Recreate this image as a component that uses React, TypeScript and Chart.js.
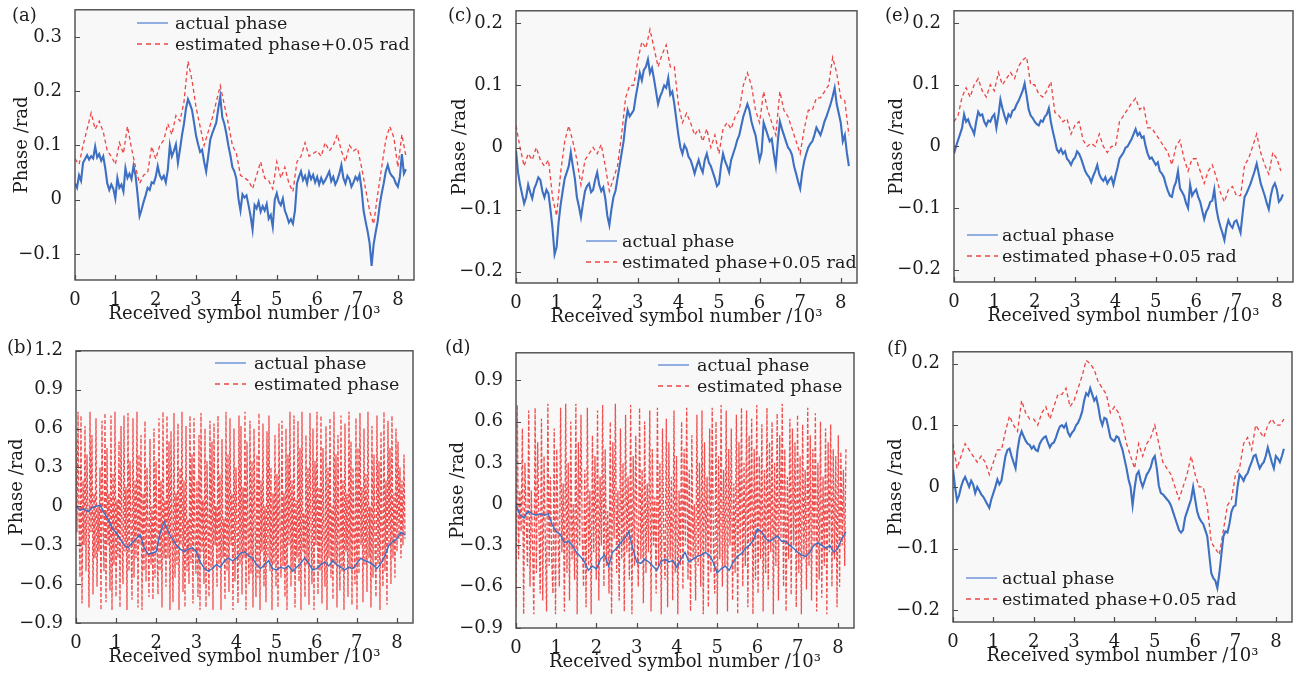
import React, { useEffect, useRef } from 'react';
import { Chart, registerables } from 'chart.js';
Chart.register(...registerables);

// ---------- text ----------
const X_TITLE = 'Received symbol number /10³';
const Y_TITLE = 'Phase /rad';
const LEG_ACTUAL = 'actual phase';
const LEG_EST_OFFSET = 'estimated phase+0.05 rad';
const LEG_EST = 'estimated phase';

// ---------- ticks ----------
const X_TICKS = [0, 1, 2, 3, 4, 5, 6, 7, 8];
const Y_TICKS_A = [-0.1, 0, 0.1, 0.2, 0.3];
const Y_TICKS_B = [-0.9, -0.6, -0.3, 0, 0.3, 0.6, 0.9, 1.2];
const Y_TICKS_C = [-0.2, -0.1, 0, 0.1, 0.2];
const Y_TICKS_D = [-0.9, -0.6, -0.3, 0, 0.3, 0.6, 0.9];
const Y_TICKS_EF = [-0.2, -0.1, 0, 0.1, 0.2];

// symbol index spacing (10^3 symbols)
const STEP_FINE = 0.05;
const STEP_COARSE = 0.1;
const X_LAST = 8.2;

// ---------- (a) ----------
const A_ACTUAL = [
  0.030, 0.022, 0.045, 0.035, 0.068, 0.075, 0.082, 0.074, 0.080, 0.076,
  0.098, 0.078, 0.084, 0.072, 0.080, 0.058, 0.030, 0.018, 0.028, 0.020,
  0.002, 0.040, 0.022, 0.028, 0.015, 0.058, 0.040, 0.048, 0.038, 0.062,
  0.045, 0.010, -0.030, -0.018, -0.004, 0.008, 0.022, 0.018, 0.032, 0.030,
  0.042, 0.062, 0.045, 0.038, 0.044, 0.032, 0.055, 0.100, 0.080, 0.090,
  0.102, 0.068, 0.092, 0.118, 0.140, 0.168, 0.185, 0.176, 0.165, 0.142,
  0.118, 0.102, 0.088, 0.092, 0.070, 0.052, 0.080, 0.110, 0.122, 0.132,
  0.142, 0.168, 0.190, 0.152, 0.140, 0.122, 0.100, 0.082, 0.060, 0.052,
  0.038, 0.002, -0.020, 0.010, 0.004, 0.008, -0.010, -0.030, -0.055, -0.010,
  -0.016, -0.004, -0.022, -0.012, -0.020, -0.008, -0.035, -0.028, -0.050, 0.000,
  0.012, -0.004, -0.010, 0.002, -0.020, -0.030, -0.042, -0.036, -0.044, -0.020,
  0.030, 0.042, 0.052, 0.036, 0.044, 0.030, 0.050, 0.038, 0.046, 0.032,
  0.042, 0.028, 0.040, 0.030, 0.036, 0.044, 0.052, 0.034, 0.042, 0.028,
  0.036, 0.048, 0.064, 0.040, 0.030, 0.044, 0.038, 0.024, 0.032, 0.042,
  0.036, 0.046, 0.020, -0.020, -0.040, -0.058, -0.080, -0.122, -0.082, -0.060,
  -0.040, -0.010, 0.012, 0.030, 0.052, 0.064, 0.050, 0.044, 0.040, 0.030,
  0.024, 0.042, 0.084, 0.048, 0.056,
];
const A_ESTIMATED = [
  0.075, 0.065, 0.100, 0.130, 0.160, 0.130, 0.145, 0.125, 0.090, 0.080,
  0.065, 0.105, 0.085, 0.135, 0.095, 0.060, 0.030, 0.045, 0.050, 0.098,
  0.075, 0.100, 0.110, 0.140, 0.120, 0.155, 0.145, 0.180, 0.255, 0.220,
  0.170, 0.135, 0.100, 0.125, 0.150, 0.180, 0.210, 0.175, 0.140, 0.100,
  0.085, 0.045, 0.040, 0.035, 0.020, 0.045, 0.070, 0.040, 0.035, 0.020,
  0.070, 0.040, 0.060, 0.030, 0.015, 0.070, 0.080, 0.105, 0.080, 0.085,
  0.090, 0.080, 0.105, 0.090, 0.100, 0.120, 0.090, 0.070, 0.100, 0.090,
  0.095, 0.060, 0.020, -0.020, -0.045, 0.010, 0.060, 0.110, 0.135, 0.115,
  0.060, 0.120, 0.080,
];

// ---------- (b) ----------
const B_ACTUAL = [
  0.00, -0.03, -0.02, -0.04, -0.01, 0.00, 0.01, -0.05, -0.10, -0.17,
  -0.20, -0.25, -0.30, -0.32, -0.28, -0.25, -0.22, -0.32, -0.37, -0.36,
  -0.35, -0.20, -0.12, -0.20, -0.25, -0.30, -0.33, -0.35, -0.33, -0.32,
  -0.35, -0.43, -0.48, -0.50, -0.48, -0.45, -0.47, -0.42, -0.40, -0.42,
  -0.40, -0.36, -0.35, -0.38, -0.40, -0.45, -0.48, -0.45, -0.42, -0.48,
  -0.49, -0.47, -0.48, -0.46, -0.50, -0.47, -0.44, -0.40, -0.44, -0.49,
  -0.48, -0.45, -0.43, -0.46, -0.42, -0.45, -0.47, -0.49, -0.47, -0.48,
  -0.44, -0.40, -0.42, -0.43, -0.45, -0.48, -0.44, -0.38, -0.30, -0.27,
  -0.25, -0.20, -0.22,
];
const B_ESTIMATED = [
  0.50, -0.20, 0.73, -0.10, -0.55, 0.70, -0.75, 0.20, -0.30, 0.62,
  -0.50, 0.40, -0.10, -0.78, 0.73, -0.20, 0.55, -0.68, 0.10, -0.40,
  0.68, -0.62, 0.00, -0.35, 0.30, -0.80, 0.66, -0.15, -0.50, 0.72,
  -0.74, 0.45, -0.30, 0.10, -0.65, 0.70, -0.80, 0.25, -0.45, 0.73,
  -0.70, 0.05, -0.40, 0.50, -0.78, 0.62, -0.25, -0.60, 0.70, -0.35,
  0.15, -0.80, 0.72, -0.50, 0.35, -0.20, -0.72, 0.68, -0.55, 0.20,
  -0.40, 0.73, -0.78, 0.40, -0.30, 0.55, -0.80, 0.10, -0.50, 0.66,
  -0.58, 0.30, -0.20, -0.70, 0.52, -0.45, 0.00, -0.72, 0.60, -0.55,
  0.35, -0.30, -0.68, 0.68, -0.50, 0.20, -0.78, 0.73, -0.40, 0.05,
  -0.62, 0.70, -0.40, 0.50, -0.80, 0.58, -0.20, -0.74, 0.72, -0.55,
  0.10, -0.45, 0.64, -0.80, 0.30, -0.30, 0.73, -0.66, 0.20, -0.78,
  0.62, -0.50, -0.10, -0.60, 0.70, -0.44, 0.40, -0.75, 0.68, -0.25,
  -0.52, 0.20, -0.70, 0.55, -0.80, 0.72, -0.35, 0.05, -0.60, 0.60,
  -0.78, 0.35, -0.20, -0.70, 0.66, -0.48, 0.50, -0.80, 0.64, -0.30,
  0.00, -0.62, 0.70, -0.45, 0.25, -0.80, 0.52, -0.40, -0.10, -0.72,
  0.73, -0.50, 0.40, -0.66, 0.68, -0.30, 0.10, -0.80, 0.60, -0.58,
  0.30, -0.20, -0.75, 0.70, -0.45, 0.62, -0.68, 0.15, -0.40, 0.73,
  -0.80, 0.50, -0.25, -0.60, 0.66, -0.52, 0.35, -0.78, 0.60, -0.10,
  -0.70, 0.40, -0.55, 0.72, -0.80, 0.20, -0.35, 0.64, -0.62, 0.00,
  -0.74, 0.58, -0.40, 0.70, -0.50, 0.30, -0.80, 0.10, -0.45, 0.55,
  -0.62, 0.25, -0.78, 0.64, -0.20, -0.55, 0.66, -0.46, 0.10, -0.70,
  0.60, -0.80, 0.40, -0.30, 0.73, -0.62, 0.20, -0.50, 0.70, -0.78,
  0.05, -0.40, 0.66, -0.58, 0.45, -0.80, 0.73, -0.35, -0.05, -0.70,
  0.55, -0.45, 0.30, -0.76, 0.72, -0.20, -0.60, 0.60, -0.80, 0.35,
  -0.30, 0.73, -0.68, 0.15, -0.50, 0.70, -0.75, 0.45, -0.25, -0.62,
  0.62, -0.80, 0.30, -0.40, 0.68, -0.55, 0.00, -0.72, 0.73, -0.45,
  0.40, -0.78, 0.55, -0.30, -0.65, 0.70, -0.50, 0.20, -0.80, 0.64,
  -0.35, 0.10, -0.70, 0.73, -0.48, 0.50, -0.76, 0.30, -0.20, -0.60,
  0.68, -0.80, 0.45, -0.52, 0.72, -0.30, 0.15, -0.74, 0.60, -0.45,
  0.25, -0.66, 0.73, -0.40, 0.00, -0.78, 0.62, -0.55, 0.40, -0.30,
  -0.70, 0.70, -0.45, 0.35, -0.80, 0.58, -0.20, -0.62, 0.73, -0.50,
  0.20, -0.76, 0.66, -0.30, 0.45, -0.60, 0.70, -0.40, 0.10, -0.55,
  0.60, -0.35, 0.50, -0.25, 0.30, -0.40, 0.20, -0.30, 0.40, -0.25,
];

// ---------- (c) ----------
const C_ACTUAL = [
  -0.005, -0.040, -0.060, -0.075, -0.090, -0.080, -0.060, -0.072, -0.082, -0.066,
  -0.058, -0.048, -0.052, -0.070, -0.080, -0.068, -0.074, -0.100, -0.130, -0.172,
  -0.160, -0.120, -0.092, -0.070, -0.050, -0.040, -0.030, -0.008, -0.030, -0.050,
  -0.080, -0.095, -0.112, -0.090, -0.070, -0.062, -0.058, -0.072, -0.068, -0.052,
  -0.040, -0.060, -0.070, -0.064, -0.082, -0.110, -0.125, -0.100, -0.080, -0.070,
  -0.050, -0.030, -0.010, 0.010, 0.040, 0.060, 0.050, 0.055, 0.060, 0.082,
  0.100, 0.120, 0.108, 0.125, 0.130, 0.142, 0.120, 0.128, 0.110, 0.090,
  0.070, 0.082, 0.090, 0.100, 0.096, 0.112, 0.085, 0.090, 0.070, 0.045,
  0.020, 0.000, -0.010, 0.004, -0.002, -0.015, -0.020, -0.030, -0.042, -0.030,
  -0.020, -0.032, -0.040, -0.020, -0.010, -0.024, -0.030, -0.040, -0.050, -0.062,
  -0.058, -0.030, -0.010, -0.022, -0.030, -0.040, -0.020, -0.010, 0.000, 0.012,
  0.020, 0.035, 0.050, 0.060, 0.070, 0.060, 0.042, 0.030, 0.020, 0.000,
  -0.020, -0.008, 0.040, 0.030, 0.020, 0.010, 0.014, -0.010, -0.030, 0.010,
  0.042, 0.030, 0.020, 0.010, 0.000, -0.004, -0.012, -0.030, -0.042, -0.055,
  -0.066, -0.040, -0.022, -0.010, 0.000, 0.006, 0.010, 0.020, 0.032, 0.026,
  0.020, 0.030, 0.042, 0.050, 0.060, 0.070, 0.082, 0.096, 0.070, 0.055,
  0.040, 0.010, 0.020, -0.008, -0.030,
];
const C_ESTIMATED = [
  0.035, 0.000, -0.030, -0.010, -0.020, 0.000, -0.020, -0.030, -0.020, -0.080,
  -0.110, -0.040, 0.010, 0.035, 0.010, -0.020, -0.060, -0.020, -0.010, 0.000,
  -0.010, 0.005, -0.030, -0.070, -0.050, -0.030, 0.020, 0.080, 0.100, 0.100,
  0.140, 0.170, 0.160, 0.190, 0.160, 0.130, 0.150, 0.165, 0.130, 0.130,
  0.070, 0.040, 0.055, 0.040, 0.020, 0.030, 0.010, 0.030, 0.000, 0.020,
  -0.010, 0.030, 0.040, 0.030, 0.050, 0.060, 0.100, 0.120, 0.100, 0.060,
  0.040, 0.090, 0.060, 0.040, 0.020, 0.090, 0.060, 0.050, 0.030, 0.010,
  -0.010, 0.030, 0.060, 0.060, 0.080, 0.080, 0.090, 0.100, 0.145, 0.120,
  0.080, 0.075, 0.020,
];

// ---------- (d) ----------
const D_ACTUAL = [
  0.00, -0.08, -0.10, -0.05, -0.07, -0.08, -0.07, -0.08, -0.07, -0.15,
  -0.20, -0.22, -0.28, -0.27, -0.30, -0.35, -0.38, -0.42, -0.48, -0.45,
  -0.47, -0.40, -0.37, -0.45, -0.35, -0.32, -0.28, -0.25, -0.20, -0.32,
  -0.42, -0.43, -0.40, -0.42, -0.45, -0.48, -0.42, -0.40, -0.42, -0.41,
  -0.46, -0.40, -0.35, -0.42, -0.40, -0.38, -0.37, -0.35, -0.37, -0.42,
  -0.50, -0.47, -0.45, -0.48, -0.42, -0.38, -0.36, -0.32, -0.30, -0.26,
  -0.18, -0.20, -0.25, -0.27, -0.25, -0.23, -0.27, -0.27, -0.30, -0.32,
  -0.35, -0.37, -0.38, -0.35, -0.30, -0.28, -0.30, -0.32, -0.30, -0.35,
  -0.32, -0.25, -0.20,
];
const D_ESTIMATED = [
  -0.75, 0.72, -0.40, 0.10, -0.20, 0.55, -0.80, 0.30, -0.10, -0.45,
  0.68, -0.60, 0.10, -0.30, -0.80, 0.70, -0.50, 0.45, -0.15, -0.65,
  0.62, -0.70, 0.35, -0.25, -0.78, 0.73, -0.45, 0.20, -0.40, -0.65,
  0.55, -0.80, 0.40, -0.20, -0.60, 0.70, -0.35, 0.15, -0.78, 0.73,
  -0.50, 0.30, -0.70, 0.60, -0.40, 0.00, -0.55, 0.73, -0.80, 0.45,
  -0.30, 0.65, -0.25, -0.60, 0.25, -0.75, 0.70, -0.45, 0.10, -0.80,
  0.50, -0.35, 0.35, -0.55, 0.68, -0.70, 0.20, -0.30, 0.72, -0.60,
  0.40, -0.45, -0.05, -0.65, 0.60, -0.80, 0.45, -0.25, 0.73, -0.50,
  0.10, -0.70, 0.55, -0.40, 0.30, -0.78, 0.65, -0.35, 0.20, -0.55,
  0.72, -0.80, 0.35, -0.45, 0.50, -0.20, -0.60, 0.70, -0.40, 0.25,
  -0.72, 0.60, -0.50, 0.15, -0.35, 0.68, -0.78, 0.40, -0.30, 0.05,
  -0.65, 0.70, -0.45, 0.30, -0.80, 0.55, -0.25, -0.55, 0.62, -0.75,
  0.45, -0.40, 0.20, -0.70, 0.68, -0.50, 0.35, -0.80, 0.10, -0.45,
  0.60, -0.62, 0.40, -0.30, 0.70, -0.55, 0.25, -0.78, 0.50, -0.40,
  0.00, -0.70, 0.65, -0.45, 0.30, -0.60, 0.68, -0.80, 0.45, -0.35,
  0.20, -0.75, 0.55, -0.50, 0.70, -0.30, -0.65, 0.60, -0.80, 0.35,
  -0.40, 0.72, -0.60, 0.25, -0.45, 0.68, -0.78, 0.40, -0.30, 0.55,
  -0.70, 0.15, -0.50, 0.65, -0.80, 0.45, -0.35, 0.70, -0.60, 0.30,
  -0.45, 0.68, -0.75, 0.50, -0.30, 0.62, -0.80, 0.40, -0.55, 0.72,
  -0.65, 0.35, -0.40, 0.58, -0.78, 0.25, -0.50, 0.70, -0.62, 0.45,
  -0.35, 0.60, -0.80, 0.30, -0.45, 0.66, -0.70, 0.50, -0.25, 0.73,
  -0.60, 0.40, -0.78, 0.20, -0.40, 0.62, -0.66, 0.55, -0.30, 0.45,
  -0.75, 0.65, -0.50, 0.35, -0.80, 0.58, -0.40, 0.25, -0.62, 0.70,
  -0.45, 0.50, -0.70, 0.40, -0.30, 0.66, -0.78, 0.30, -0.55, 0.60,
  -0.68, 0.20, -0.45, 0.55, -0.80, 0.45, -0.35, 0.58, -0.60, 0.40,
  -0.40, 0.35, -0.75, 0.50, -0.60, 0.38, -0.30, 0.25, -0.45, 0.40,
];

// ---------- (e) ----------
const E_ACTUAL = [
  -0.012, 0.000, 0.010, 0.020, 0.030, 0.052, 0.040, 0.044, 0.034, 0.028,
  0.020, 0.040, 0.056, 0.050, 0.052, 0.040, 0.034, 0.042, 0.040, 0.048,
  0.052, 0.030, 0.050, 0.076, 0.062, 0.050, 0.040, 0.052, 0.048, 0.058,
  0.060, 0.068, 0.074, 0.082, 0.090, 0.102, 0.082, 0.060, 0.050, 0.046,
  0.040, 0.036, 0.034, 0.042, 0.040, 0.048, 0.052, 0.062, 0.040, 0.024,
  0.010, -0.005, -0.010, -0.004, -0.012, -0.008, -0.020, -0.024, -0.030, -0.022,
  -0.018, -0.008, -0.012, -0.020, -0.030, -0.040, -0.046, -0.050, -0.058, -0.048,
  -0.040, -0.030, -0.045, -0.052, -0.056, -0.050, -0.060, -0.054, -0.050, -0.062,
  -0.048, -0.035, -0.020, -0.015, -0.010, -0.002, 0.000, 0.006, 0.012, 0.020,
  0.028, 0.018, 0.022, 0.014, 0.016, 0.000, -0.012, -0.020, -0.018, -0.024,
  -0.030, -0.026, -0.040, -0.044, -0.050, -0.062, -0.072, -0.080, -0.082, -0.066,
  -0.058, -0.040, -0.068, -0.074, -0.080, -0.092, -0.100, -0.062, -0.080, -0.074,
  -0.070, -0.082, -0.090, -0.104, -0.118, -0.106, -0.100, -0.090, -0.088, -0.070,
  -0.100, -0.118, -0.130, -0.140, -0.152, -0.132, -0.120, -0.128, -0.132, -0.122,
  -0.120, -0.130, -0.140, -0.110, -0.082, -0.076, -0.068, -0.060, -0.050, -0.040,
  -0.028, -0.044, -0.060, -0.070, -0.080, -0.092, -0.102, -0.080, -0.066, -0.060,
  -0.070, -0.090, -0.086, -0.078,
];
const E_ESTIMATED = [
  0.040, 0.050, 0.080, 0.095, 0.080, 0.100, 0.110, 0.090, 0.080, 0.100,
  0.090, 0.120, 0.100, 0.110, 0.120, 0.110, 0.130, 0.140, 0.145, 0.100,
  0.100, 0.085, 0.080, 0.090, 0.105, 0.055, 0.050, 0.040, 0.045, 0.020,
  0.035, 0.040, 0.010, 0.000, 0.005, 0.000, 0.020, 0.000, -0.010, 0.000,
  0.000, 0.040, 0.050, 0.060, 0.070, 0.078, 0.060, 0.065, 0.030, 0.030,
  0.020, 0.010, 0.000, -0.010, -0.030, 0.000, 0.010, -0.020, -0.040, -0.020,
  -0.020, -0.040, -0.060, -0.040, -0.030, -0.050, -0.075, -0.090, -0.070, -0.065,
  -0.080, -0.080, -0.030, -0.020, 0.000, 0.020, -0.010, -0.030, -0.045, -0.010,
  -0.020, -0.040,
];

// ---------- (f) ----------
const F_ACTUAL = [
  0.028, 0.000, -0.022, -0.014, 0.000, 0.010, 0.016, 0.008, 0.000, 0.010,
  0.004, -0.010, 0.000, -0.006, -0.012, -0.016, -0.022, -0.028, -0.034, -0.020,
  -0.010, 0.000, 0.012, 0.004, 0.010, 0.030, 0.050, 0.060, 0.062, 0.050,
  0.040, 0.030, 0.060, 0.080, 0.090, 0.082, 0.075, 0.070, 0.068, 0.062,
  0.066, 0.060, 0.058, 0.070, 0.076, 0.080, 0.082, 0.072, 0.064, 0.070,
  0.072, 0.080, 0.090, 0.098, 0.100, 0.096, 0.102, 0.088, 0.082, 0.088,
  0.092, 0.100, 0.104, 0.112, 0.122, 0.140, 0.152, 0.148, 0.160, 0.150,
  0.140, 0.145, 0.130, 0.110, 0.100, 0.112, 0.110, 0.096, 0.080, 0.076,
  0.074, 0.082, 0.080, 0.070, 0.060, 0.045, 0.030, 0.012, 0.000, -0.030,
  -0.002, 0.020, 0.025, 0.010, 0.000, 0.010, 0.020, 0.025, 0.032, 0.045,
  0.050, 0.030, 0.002, -0.010, -0.012, -0.016, -0.020, -0.024, -0.030, -0.040,
  -0.050, -0.060, -0.070, -0.074, -0.070, -0.050, -0.040, -0.030, -0.020, 0.000,
  -0.020, -0.040, -0.050, -0.056, -0.060, -0.070, -0.080, -0.110, -0.140, -0.148,
  -0.152, -0.164, -0.140, -0.110, -0.080, -0.072, -0.074, -0.060, -0.040, -0.032,
  -0.030, 0.000, 0.020, 0.016, 0.010, 0.018, 0.022, 0.032, 0.040, 0.050,
  0.052, 0.040, 0.030, 0.036, 0.040, 0.050, 0.064, 0.052, 0.040, 0.030,
  0.050, 0.046, 0.040, 0.050, 0.062,
];
const F_ESTIMATED = [
  0.070, 0.030, 0.050, 0.070, 0.060, 0.050, 0.040, 0.050, 0.040, 0.020,
  0.040, 0.060, 0.060, 0.090, 0.115, 0.100, 0.090, 0.140, 0.120, 0.110,
  0.110, 0.100, 0.120, 0.130, 0.110, 0.130, 0.150, 0.150, 0.160, 0.130,
  0.140, 0.160, 0.180, 0.205, 0.200, 0.190, 0.170, 0.160, 0.150, 0.120,
  0.130, 0.120, 0.100, 0.070, 0.050, 0.030, 0.070, 0.050, 0.070, 0.080,
  0.100, 0.070, 0.040, 0.030, 0.020, 0.000, -0.020, 0.000, 0.020, 0.050,
  0.020, 0.000, 0.000, -0.030, -0.090, -0.100, -0.110, -0.070, -0.030, -0.020,
  0.020, 0.030, 0.070, 0.080, 0.060, 0.100, 0.090, 0.080, 0.100, 0.110,
  0.100, 0.100, 0.110,
];

// ---------- styling ----------
const FONT = "'DejaVu Serif', 'Liberation Serif', serif";
const TEXT = '#1c1c1c';
const BLUE = '#3d6fc2';
const RED = '#ee4444';
const RED_DENSE = 'rgba(238,60,60,0.9)';
const PLOT_BG = '#f8f8f8';
const FRAME = '#4a4a4a';

const YW = 70;
const XH = 50;
const PT = 14;
const PR = 6;

type Series = { values: number[]; step: number | null; role: 'actual' | 'actualThin' | 'est' | 'estDense' };
type PanelDef = {
  tag: string;
  area: { l: number; t: number; r: number; b: number };
  yMin: number;
  yMax: number;
  yTicks: number[];
  series: Series[];
  legend: { x: number; y: number; est: string; gap: number };
  tagPos: { x: number; y: number };
  yTitlePad: number;
};

const PANELS: PanelDef[] = [
  {
    tag: '(a)', area: { l: 75, t: 8, r: 414, b: 280 }, yMin: -0.148, yMax: 0.35, yTicks: Y_TICKS_A,
    series: [
      { values: A_ACTUAL, step: STEP_FINE, role: 'actual' },
      { values: A_ESTIMATED, step: STEP_COARSE, role: 'est' },
    ],
    legend: { x: 137, y: 23, est: LEG_EST_OFFSET, gap: 7 }, tagPos: { x: 12, y: 15 }, yTitlePad: 7,
  },
  {
    tag: '(b)', area: { l: 76, t: 349, r: 413, b: 623 }, yMin: -0.9, yMax: 1.2, yTicks: Y_TICKS_B,
    series: [
      { values: B_ACTUAL, step: STEP_COARSE, role: 'actualThin' },
      { values: B_ESTIMATED, step: null, role: 'estDense' },
    ],
    legend: { x: 215, y: 363, est: LEG_EST, gap: 8 }, tagPos: { x: 7, y: 347 }, yTitlePad: 1,
  },
  {
    tag: '(c)', area: { l: 516, t: 9, r: 857, b: 283 }, yMin: -0.218, yMax: 0.22, yTicks: Y_TICKS_C,
    series: [
      { values: C_ACTUAL, step: STEP_FINE, role: 'actual' },
      { values: C_ESTIMATED, step: STEP_COARSE, role: 'est' },
    ],
    legend: { x: 586, y: 241, est: LEG_EST_OFFSET, gap: 5 }, tagPos: { x: 448, y: 15 }, yTitlePad: 4,
  },
  {
    tag: '(d)', area: { l: 516, t: 351, r: 854, b: 628 }, yMin: -0.9, yMax: 1.1, yTicks: Y_TICKS_D,
    series: [
      { values: D_ACTUAL, step: STEP_COARSE, role: 'actualThin' },
      { values: D_ESTIMATED, step: null, role: 'estDense' },
    ],
    legend: { x: 658, y: 365, est: LEG_EST, gap: 8 }, tagPos: { x: 445, y: 347 }, yTitlePad: 2,
  },
  {
    tag: '(e)', area: { l: 954, t: 9, r: 1293, b: 282 }, yMin: -0.22, yMax: 0.22, yTicks: Y_TICKS_EF,
    series: [
      { values: E_ACTUAL, step: STEP_FINE, role: 'actual' },
      { values: E_ESTIMATED, step: STEP_COARSE, role: 'est' },
    ],
    legend: { x: 967, y: 235, est: LEG_EST_OFFSET, gap: 4 }, tagPos: { x: 885, y: 15 }, yTitlePad: 3,
  },
  {
    tag: '(f)', area: { l: 953, t: 350, r: 1292, b: 622 }, yMin: -0.219, yMax: 0.219, yTicks: Y_TICKS_EF,
    series: [
      { values: F_ACTUAL, step: STEP_FINE, role: 'actual' },
      { values: F_ESTIMATED, step: STEP_COARSE, role: 'est' },
    ],
    legend: { x: 966, y: 578, est: LEG_EST_OFFSET, gap: 5 }, tagPos: { x: 887, y: 348 }, yTitlePad: 3,
  },
];

function toPoints(values: number[], step: number | null) {
  const s = step === null ? X_LAST / (values.length - 1) : step;
  return values.map((y, i) => ({ x: i * s, y }));
}

function fmt(v: number) {
  if (Math.abs(v) < 1e-9) return '0';
  const s = String(Math.round(v * 100) / 100);
  return s.replace('-', '−');
}

const framePlugin = {
  id: 'frameTicks',
  beforeDatasetsDraw(chart: any) {
    const { ctx, chartArea } = chart;
    const { left, top, width, height } = chartArea;
    ctx.save();
    ctx.fillStyle = PLOT_BG;
    ctx.fillRect(left, top, width, height);
    ctx.restore();
  },
  afterDatasetsDraw(chart: any) {
    const { ctx, chartArea, scales } = chart;
    const { left, top, right, bottom } = chartArea;
    ctx.save();
    ctx.strokeStyle = FRAME;
    ctx.lineWidth = 1.4;
    ctx.strokeRect(left, top, right - left, bottom - top);
    ctx.lineWidth = 1.2;
    ctx.beginPath();
    for (const v of X_TICKS) {
      const px = Math.round(scales.x.getPixelForValue(v)) + 0.5;
      ctx.moveTo(px, bottom);
      ctx.lineTo(px, bottom - 5);
    }
    const yt = chart.options.scales.y.myTicks as number[];
    for (const v of yt) {
      const py = Math.round(scales.y.getPixelForValue(v)) + 0.5;
      ctx.moveTo(left, py);
      ctx.lineTo(left + 5, py);
    }
    ctx.stroke();
    ctx.restore();
  },
};

function Panel({ p }: { p: PanelDef }) {
  const ref = useRef<HTMLCanvasElement>(null);
  const aw = p.area.r - p.area.l;
  const ah = p.area.b - p.area.t;
  const W = YW + aw + PR;
  const H = PT + ah + XH;

  useEffect(() => {
    if (!ref.current) return;
    const datasets = p.series.map((s) => {
      const base: any = {
        data: toPoints(s.values, s.step),
        pointRadius: 0,
        tension: 0,
        fill: false,
      };
      if (s.role === 'actual') {
        return { ...base, borderColor: BLUE, borderWidth: 2.1, borderJoinStyle: 'miter' };
      }
      if (s.role === 'actualThin') {
        return { ...base, borderColor: BLUE, borderWidth: 1.4 };
      }
      if (s.role === 'est') {
        return { ...base, borderColor: RED, borderWidth: 1.3, borderDash: [4, 3] };
      }
      return { ...base, borderColor: RED_DENSE, borderWidth: 1.3, borderDash: [4, 2] };
    });
    const chart = new Chart(ref.current, {
      type: 'line',
      data: { datasets },
      plugins: [framePlugin],
      options: {
        animation: false,
        responsive: false,
        maintainAspectRatio: false,
        devicePixelRatio: 1,
        events: [],
        layout: { padding: { top: PT, right: PR, left: 0, bottom: 0 } },
        plugins: { legend: { display: false }, tooltip: { enabled: false } },
        scales: {
          x: {
            type: 'linear',
            min: 0,
            max: 8.4,
            afterBuildTicks: (scale: any) => {
              scale.ticks = X_TICKS.map((v) => ({ value: v }));
            },
            afterFit: (scale: any) => {
              scale.height = XH;
            },
            grid: { display: false },
            border: { display: false },
            ticks: {
              autoSkip: false,
              maxRotation: 0,
              padding: 2,
              color: TEXT,
              font: { family: FONT, size: 18 },
              callback: (v: any) => fmt(Number(v)),
            },
            title: {
              display: true,
              text: X_TITLE,
              color: TEXT,
              font: { family: FONT, size: 18 },
              padding: { top: 0, bottom: 5 },
            },
          },
          y: {
            type: 'linear',
            min: p.yMin,
            max: p.yMax,
            myTicks: p.yTicks,
            afterBuildTicks: (scale: any) => {
              scale.ticks = p.yTicks.map((v) => ({ value: v }));
            },
            afterFit: (scale: any) => {
              scale.width = YW;
            },
            grid: { display: false },
            border: { display: false },
            ticks: {
              autoSkip: false,
              padding: 5,
              color: TEXT,
              font: { family: FONT, size: 18 },
              callback: (v: any) => fmt(Number(v)),
            },
            title: {
              display: true,
              text: Y_TITLE,
              color: TEXT,
              font: { family: FONT, size: 18 },
              padding: { top: p.yTitlePad, bottom: 0 },
            },
          } as any,
        },
      } as any,
    });
    return () => chart.destroy();
  }, []);

  const legRow = (dashed: boolean, text: string, top: number) => (
    <div
      style={{
        position: 'absolute',
        left: p.legend.x,
        top,
        height: 21,
        display: 'flex',
        alignItems: 'center',
        whiteSpace: 'nowrap',
        fontFamily: FONT,
        fontSize: 17.5,
        color: TEXT,
        lineHeight: '21px',
      }}
    >
      <svg width={31} height={6} style={{ marginRight: p.legend.gap, display: 'block' }}>
        <line
          x1={0}
          y1={3}
          x2={31}
          y2={3}
          stroke={dashed ? RED : '#5a86d2'}
          strokeWidth={1.3}
          strokeDasharray={dashed ? '5 4' : undefined}
        />
      </svg>
      <span>{text}</span>
    </div>
  );

  return (
    <>
      <div style={{ position: 'absolute', left: p.area.l - YW, top: p.area.t - PT, width: W, height: H }}>
        <canvas ref={ref} width={W} height={H} style={{ width: W, height: H, display: 'block' }} />
      </div>
      {legRow(false, LEG_ACTUAL, p.legend.y - 10.5)}
      {legRow(true, p.legend.est, p.legend.y - 10.5 + 21)}
      <div
        style={{
          position: 'absolute',
          left: p.tagPos.x,
          top: p.tagPos.y - 11,
          fontFamily: FONT,
          fontSize: 18,
          lineHeight: '22px',
          color: TEXT,
        }}
      >
        {p.tag}
      </div>
    </>
  );
}

export default function App() {
  return (
    <div
      style={{
        position: 'fixed',
        left: 0,
        top: 0,
        width: 1298,
        height: 679,
        background: '#ffffff',
        overflow: 'hidden',
      }}
    >
      {PANELS.map((p) => (
        <Panel key={p.tag} p={p} />
      ))}
    </div>
  );
}
